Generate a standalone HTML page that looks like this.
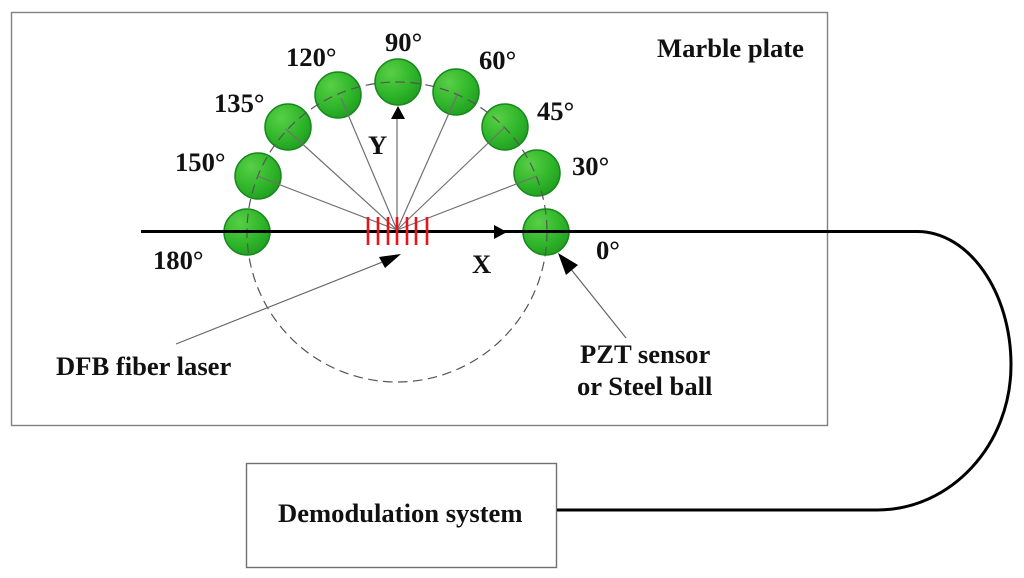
<!DOCTYPE html>
<html>
<head>
<meta charset="utf-8">
<style>
html,body{margin:0;padding:0;background:#fff;width:1024px;height:578px;overflow:hidden}
svg{display:block;filter:blur(0.35px)}
text{font-family:"Liberation Serif",serif;font-weight:bold;fill:#111;font-size:26.6px}
</style>
</head>
<body>
<svg width="1024" height="578" viewBox="0 0 1024 578">
<defs>
<radialGradient id="g" cx="35%" cy="30%" r="80%">
<stop offset="0" stop-color="#58cf46"/>
<stop offset="0.6" stop-color="#2fb52a"/>
<stop offset="1" stop-color="#1f9a1f"/>
</radialGradient>
</defs>
<rect x="11.5" y="12.5" width="816" height="413" fill="#fff" stroke="#808080" stroke-width="1.4"/>
<rect x="246.5" y="463.5" width="310" height="104" fill="#fff" stroke="#707070" stroke-width="1.4"/>

<!-- sensors -->
<g fill="url(#g)" stroke="#16881c" stroke-width="1.5">
<circle cx="247" cy="232" r="23"/>
<circle cx="258" cy="176" r="23"/>
<circle cx="288" cy="127" r="23"/>
<circle cx="338" cy="95" r="23"/>
<circle cx="398" cy="82" r="23"/>
<circle cx="456" cy="92" r="23"/>
<circle cx="505" cy="127" r="23"/>
<circle cx="537" cy="173" r="23"/>
<circle cx="546" cy="232" r="23"/>
</g>

<!-- dashed circle -->
<circle cx="397" cy="232" r="150" fill="none" stroke="#555" stroke-width="1.2" stroke-dasharray="9.5 5.5"/>

<!-- radial lines -->
<g stroke="#707070" stroke-width="1.2" fill="none">
<line x1="397" y1="230" x2="257" y2="176"/>
<line x1="397" y1="230" x2="286" y2="129"/>
<line x1="397" y1="230" x2="341" y2="98"/>
<line x1="397" y1="230" x2="397" y2="110"/>
<line x1="397" y1="230" x2="458" y2="93"/>
<line x1="397" y1="230" x2="505" y2="127"/>
<line x1="397" y1="230" x2="537" y2="176"/>
</g>

<!-- main fibre -->
<path d="M141 231.5H917C969 231.5 1011 292 1011 365C1011 445 951 510 877 510H557" fill="none" stroke="#000" stroke-width="3"/>

<!-- red grating -->
<g stroke="#e8141c" stroke-width="2.6">
<line x1="368" y1="217" x2="368" y2="245"/>
<line x1="378" y1="217" x2="378" y2="245"/>
<line x1="388" y1="217" x2="388" y2="245"/>
<line x1="397" y1="217" x2="397" y2="245"/>
<line x1="407" y1="217" x2="407" y2="245"/>
<line x1="416" y1="217" x2="416" y2="245"/>
<line x1="427" y1="217" x2="427" y2="245"/>
</g>

<!-- arrows -->
<polygon points="398,106 405,119 391,119" fill="#000"/>
<polygon points="507,232 494,225 494,239" fill="#000"/>
<line x1="176" y1="344" x2="385" y2="261" stroke="#666" stroke-width="1.2"/>
<polygon points="401,254 379,257 385,268" fill="#000"/>
<line x1="626" y1="338" x2="570" y2="268" stroke="#666" stroke-width="1.2"/>
<polygon points="558,253 578,265 566,275" fill="#000"/>

<!-- labels -->
<text x="385" y="51">90°</text>
<text x="286" y="66">120°</text>
<text x="214" y="112">135°</text>
<text x="175" y="171">150°</text>
<text x="153" y="269">180°</text>
<text x="479" y="69">60°</text>
<text x="537" y="120">45°</text>
<text x="572" y="175">30°</text>
<text x="596" y="259">0°</text>
<text x="368" y="154">Y</text>
<text x="472" y="273">X</text>
<text x="657" y="57">Marble plate</text>
<text x="56" y="375">DFB fiber laser</text>
<text x="580" y="363">PZT sensor</text>
<text x="577" y="395">or Steel ball</text>
<text x="278" y="522">Demodulation system</text>
</svg>
</body>
</html>
